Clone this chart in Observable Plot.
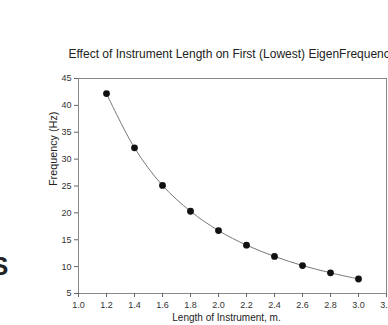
<!DOCTYPE html>
<html>
<head>
<meta charset="utf-8">
<script src="https://cdn.jsdelivr.net/npm/d3@7"></script>
<script src="https://cdn.jsdelivr.net/npm/@observablehq/plot@0.6"></script>
<style>
  html, body { margin: 0; padding: 0; background: #fff; overflow: hidden; }
  #wrap { position: relative; width: 388px; height: 325px; overflow: hidden; }
  #edge { position: absolute; left: -9px; top: 251px; font: bold 26px "Liberation Sans", Arial, sans-serif; color: #222; }
  svg { font-family: "Liberation Sans", Arial, sans-serif; }
</style>
</head>
<body>
<div id="wrap"><div id="edge">S</div></div>
<script>
const lengths = [1.2, 1.4, 1.6, 1.8, 2.0, 2.2, 2.4, 2.6, 2.8, 3.0];
const freqs = [42.2, 32.1, 25.1, 20.3, 16.7, 14.0, 11.9, 10.2, 8.85, 7.7];
const xTicks = [1.0, 1.2, 1.4, 1.6, 1.8, 2.0, 2.2, 2.4, 2.6, 2.8, 3.0, 3.2];
const yTicks = [5, 10, 15, 20, 25, 30, 35, 40, 45];
const title = "Effect of Instrument Length on First (Lowest) EigenFrequency";
const xLabel = "Length of Instrument, m.";
const yLabel = "Frequency (Hz)";

const data = lengths.map((L, i) => ({L, f: freqs[i]}));

const chart = Plot.plot({
  width: 388,
  height: 325,
  marginLeft: 78,
  marginRight: 2,
  marginTop: 78,
  marginBottom: 32,
  style: {fontFamily: "Liberation Sans, Arial, sans-serif", fontSize: "9px", color: "#333", background: "transparent", overflow: "visible"},
  x: {domain: [1.0, 3.2], ticks: xTicks, tickFormat: d => d.toFixed(1), tickSize: 4, label: null},
  y: {domain: [5, 45], ticks: yTicks, tickSize: 4, label: null},
  marks: [
    Plot.frame({stroke: "#888", strokeWidth: 1}),
    Plot.axisX({ticks: xTicks, tickFormat: d => d.toFixed(1), tickSize: 4, tickPadding: 4, stroke: "#666", fill: "#333", fontSize: 9, label: null}),
    Plot.axisY({ticks: yTicks, tickSize: 4, tickPadding: 3, stroke: "#666", fill: "#333", fontSize: 9, label: null}),
    Plot.line(data, {x: "L", y: "f", curve: "catmull-rom", stroke: "#777", strokeWidth: 1}),
    Plot.dot(data, {x: "L", y: "f", r: 3.4, fill: "#111", stroke: "none"}),
    Plot.text([title], {frameAnchor: "top-left", dx: -10, dy: -29, textAnchor: "start", fontSize: 12, fill: "#222"}),
    Plot.text([xLabel], {frameAnchor: "bottom", dx: -6, dy: 27, fontSize: 10, fill: "#222"}),
    Plot.text([yLabel], {frameAnchor: "left", dx: -25, rotate: -90, fontSize: 10.8, fill: "#222"})
  ]
});
document.getElementById("wrap").appendChild(chart);
chart.style.position = "absolute";
chart.style.left = "0";
chart.style.top = "0";
</script>
</body>
</html>
